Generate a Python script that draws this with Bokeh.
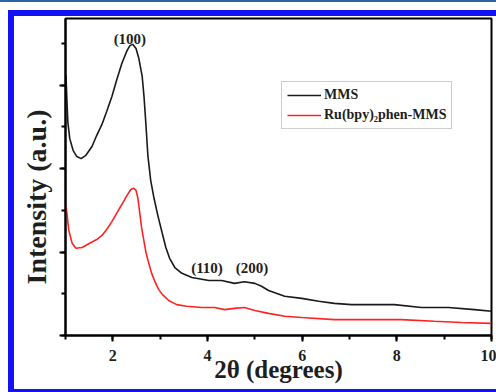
from bokeh.plotting import figure
from bokeh.models import (SingleIntervalTicker, Range1d, Legend, LegendItem, Div, Title)
from bokeh.layouts import column, row
from bokeh.core.properties import value
from bokeh.embed import file_html
from bokeh.resources import INLINE

# MMS (black) curve
mms_x = [1.01, 1.03, 1.05, 1.09, 1.16, 1.24, 1.33, 1.43, 1.56, 1.66, 1.77, 1.87, 1.98, 2.08, 2.19,
         2.30, 2.36, 2.42, 2.49, 2.55, 2.62, 2.66, 2.70, 2.74, 2.80, 2.87, 2.95, 3.04, 3.12, 3.20,
         3.31, 3.46, 3.67, 4.03, 4.30, 4.57, 4.78, 5.00, 5.14, 5.29, 5.63, 5.99, 6.35, 6.68, 7.04,
         7.40, 7.95, 8.52, 9.09, 9.64, 10.0]
mms_y = [6.24, 5.64, 5.11, 4.72, 4.44, 4.29, 4.24, 4.32, 4.53, 4.80, 5.06, 5.37, 5.73, 6.12, 6.52,
         6.83, 6.95, 6.98, 6.88, 6.64, 6.21, 5.71, 5.04, 4.32, 3.72, 3.29, 2.88, 2.47, 2.11, 1.85,
         1.63, 1.49, 1.39, 1.32, 1.32, 1.25, 1.29, 1.25, 1.18, 1.08, 0.94, 0.89, 0.82, 0.77, 0.74,
         0.74, 0.74, 0.67, 0.67, 0.62, 0.58]

# Ru(bpy)2phen-MMS (red) curve
ru_x = [1.01, 1.07, 1.14, 1.22, 1.35, 1.51, 1.66, 1.77, 1.87, 1.98, 2.08, 2.19, 2.30, 2.38, 2.44,
        2.49, 2.53, 2.57, 2.61, 2.66, 2.70, 2.76, 2.82, 2.89, 2.97, 3.05, 3.18, 3.35, 3.56, 3.88,
        4.15, 4.36, 4.57, 4.78, 5.00, 5.29, 5.63, 5.99, 6.68, 7.40, 8.10, 8.79, 9.36, 10.0]
ru_y = [3.12, 2.52, 2.21, 2.09, 2.11, 2.21, 2.30, 2.40, 2.54, 2.73, 2.93, 3.14, 3.36, 3.50, 3.53,
        3.48, 3.29, 2.93, 2.57, 2.25, 1.99, 1.73, 1.49, 1.29, 1.10, 0.98, 0.84, 0.74, 0.70, 0.67,
        0.67, 0.62, 0.65, 0.67, 0.60, 0.53, 0.46, 0.43, 0.38, 0.38, 0.38, 0.34, 0.31, 0.29]

peak_labels = ["(100)", "(110)", "(200)"]
peak_x = [2.36, 3.99, 4.94]
peak_y = [7.12, 1.61, 1.61]

x_tick_labels = {2: "2", 4: "4", 6: "6", 8: "8", 10: "10"}
series_names = ["MMS", "Ru(bpy)₂phen-MMS"]

FONT = "Liberation Serif"
TXT = "#1e1e1e"
BLUE = "#1212f2"
DARKBLUE = "#2a64aa"

p = figure(width=482, height=373, output_backend="svg", toolbar_location=None,
           x_range=Range1d(1, 10), y_range=Range1d(0, 7.6),
           min_border_left=50, min_border_right=5, min_border_top=2, min_border_bottom=54)
p.background_fill_color = "white"
p.border_fill_color = "white"
p.grid.visible = False
p.outline_line_color = "black"
p.outline_line_width = 2

l1 = p.line(mms_x, mms_y, line_color="#1a1a1a", line_width=1.6)
l2 = p.line(ru_x, ru_y, line_color="#ff2222", line_width=1.6)

p.text(x=peak_x, y=peak_y, text=peak_labels, text_font=value(FONT), text_font_style="bold",
       text_font_size="15px", text_align="center", text_baseline="middle", text_color=TXT)

# axes
p.xaxis.ticker = SingleIntervalTicker(interval=2, num_minor_ticks=2)
p.yaxis.ticker = SingleIntervalTicker(interval=2, num_minor_ticks=2)
for ax in (p.xaxis[0], p.yaxis[0]):
    ax.axis_line_width = 2
    ax.axis_line_color = "black"
    ax.major_tick_line_width = 2
    ax.minor_tick_line_width = 2
    ax.major_tick_out = 6
    ax.major_tick_in = 0
    ax.minor_tick_out = 4
    ax.minor_tick_in = 0
    ax.major_label_text_font = FONT
    ax.major_label_text_font_style = "bold"
    ax.major_label_text_font_size = "16px"
    ax.major_label_text_color = TXT

p.xaxis.major_label_overrides = x_tick_labels
p.xaxis.major_label_standoff = 8
p.xaxis.axis_label = "2θ (degrees)"
p.xaxis.axis_label_text_font = FONT
p.xaxis.axis_label_text_font_style = "bold"
p.xaxis.axis_label_text_font_size = "25px"
p.xaxis.axis_label_standoff = -8
p.xaxis.axis_label_text_color = TXT

p.yaxis.major_label_overrides = {0: "", 2: "", 4: "", 6: ""}
p.yaxis.major_label_standoff = 0

ytitle = Title(text="Intensity (a.u.)", align="left", vertical_align="top", offset=51,
               standoff=12, text_font=FONT, text_font_style="bold", text_font_size="28px",
               text_color=TXT)
p.add_layout(ytitle, "left")

legend = Legend(items=[LegendItem(label=series_names[0], renderers=[l1]),
                       LegendItem(label=series_names[1], renderers=[l2])],
                location=(216, 206))
legend.label_text_font = FONT
legend.label_text_font_style = "bold"
legend.label_text_font_size = "14px"
legend.label_text_color = TXT
legend.border_line_color = "#999999"
legend.border_line_width = 1
legend.glyph_width = 34
legend.glyph_height = 14
legend.spacing = 4
legend.padding = 5
legend.margin = 0
legend.label_standoff = 3
legend.label_height = 16
p.add_layout(legend)


def block(w, h, color):
    return Div(width=w, height=h, margin=0, styles={"background-color": color})


inner = column(block(482, 6, BLUE), p, block(482, 3, BLUE), spacing=0)
middle = row(block(8, 382, "white"), block(6, 382, BLUE), inner, spacing=0)
layout = column(block(496, 2, DARKBLUE), block(496, 8, "white"), middle, spacing=0)

open("out.html", "w").write(file_html(layout, INLINE))
